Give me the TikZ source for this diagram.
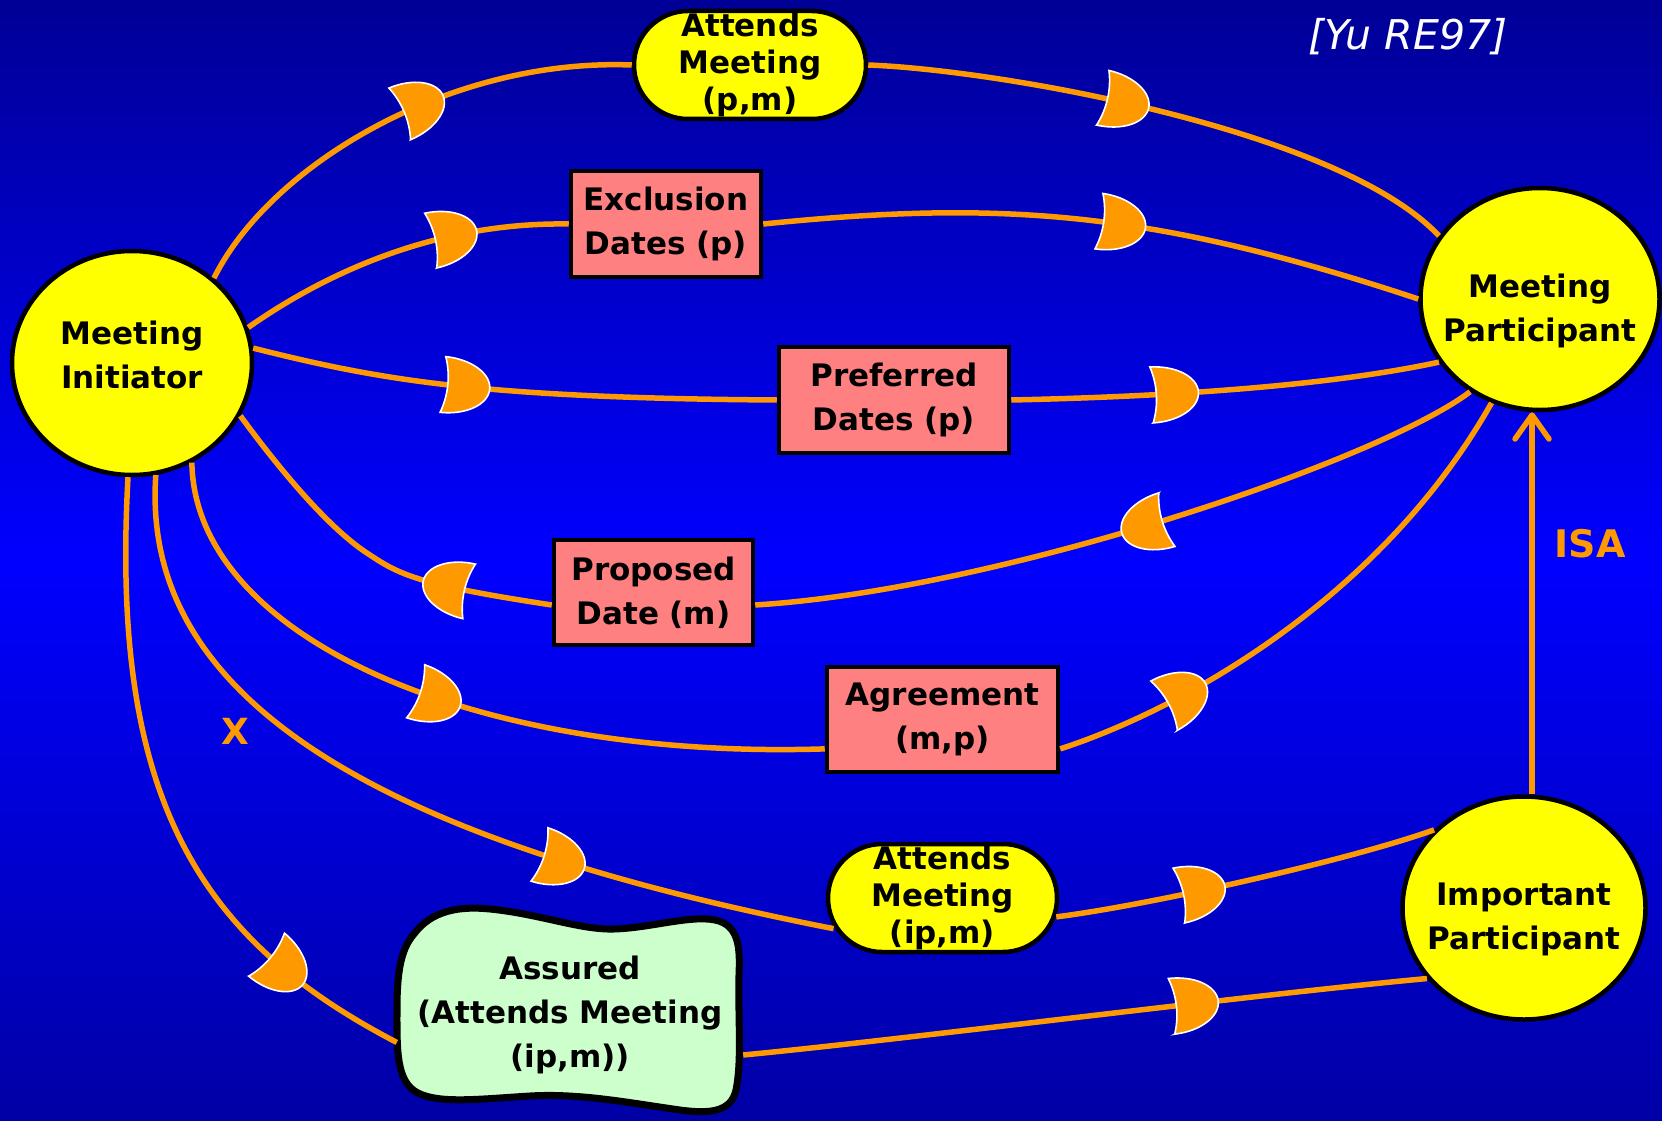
\documentclass[tikz,border=0pt]{standalone}
\usepackage{fontspec}
\setmainfont{DejaVu Sans}
\usetikzlibrary{shapes.geometric,arrows.meta,decorations.markings}

\definecolor{bgtop}{RGB}{0,0,150}
\definecolor{bgmid}{RGB}{0,0,255}
\definecolor{bgbot}{RGB}{0,0,165}
\definecolor{linkorange}{RGB}{255,153,0}
\definecolor{actoryellow}{RGB}{255,255,0}
\definecolor{resred}{RGB}{255,128,128}
\definecolor{softgreen}{RGB}{204,255,204}

\newcommand\labelfont{\fontsize{31}{44}\selectfont\bfseries}
\newcommand\goalfont{\fontsize{31}{37}\selectfont\bfseries}

% the "D" dependency marker, pointing along the path
\newcommand\depmark{%
  \filldraw[fill=linkorange, draw=white, line width=1.6pt]
    (-23,28) .. controls (3,28) and (24,15.5) .. (24,0)
    .. controls (24,-15.5) and (3,-28) .. (-23,-28)
    .. controls (-16.5,-10) and (-16.5,10) .. cycle;}

\tikzset{
  actor/.style={ellipse, draw=black, line width=4.5pt, fill=actoryellow,
    inner sep=-30pt, align=center, font=\labelfont},
  resource/.style={rectangle, draw=black, line width=4.5pt, fill=resred,
    inner sep=0pt, align=center, font=\labelfont},
  goalbox/.style={rectangle, rounded corners=54pt, draw=black, line width=4.5pt,
    fill=actoryellow, inner sep=0pt, align=center, font=\goalfont},
  dep/.style={draw=linkorange, line width=5.5pt, postaction={decorate},
    decoration={markings, mark=at position #1 with {\depmark}}},
  isalink/.style={draw=linkorange, line width=5.5pt,
    -{Straight Barb[length=24pt, width=34pt, line cap=round, round]}},
}

\begin{document}
\begin{tikzpicture}[x=1pt, y=-1pt]
\useasboundingbox (0,0) rectangle (1662,1121);
\shade[top color=bgtop, bottom color=bgbot, middle color=bgmid] (0,0) rectangle (1662,1121);

% actors
\node[actor, minimum width=240, minimum height=224, text depth=16pt] (MI) at (132,363) {Meeting\\Initiator};
\node[actor, minimum width=239, minimum height=222, text height=91pt] (MP) at (1540,299) {Meeting\\Participant};
\node[actor, minimum width=243, minimum height=223, text height=88.6pt] (IP) at (1524,908) {Important\\Participant};

% goals and resources
\node[goalbox, minimum width=232, minimum height=108] (AM1) at (750,65) {Attends\\Meeting\\(p,m)};
\node[resource, minimum width=190, minimum height=106] (ED) at (666,224) {Exclusion\\Dates (p)};
\node[resource, minimum width=230, minimum height=106] (PrefD) at (894,400) {Preferred\\Dates (p)};
\node[resource, minimum width=199, minimum height=105] (PropD) at (653.5,592.5) {Proposed\\Date (m)};
\node[resource, minimum width=231, minimum height=105] (Agr) at (942.5,719.5) {Agreement\\(m,p)};
\node[goalbox, minimum width=229, minimum height=108] (AMip) at (942.5,898) {Attends\\Meeting\\(ip,m)};

% softgoal outline
\filldraw[fill=softgreen, draw=black, line width=7pt, line join=round]
  (414,934) .. controls (432,910) and (460,906) .. (490,909)
  .. controls (540,914) and (580,930) .. (614,929)
  .. controls (650,928) and (690,915) .. (715,920)
  .. controls (740,925) and (740,950) .. (739,975)
  .. controls (738,1020) and (742,1060) .. (736,1090)
  .. controls (731,1112) and (710,1114) .. (680,1110)
  .. controls (630,1103) and (580,1093) .. (530,1096)
  .. controls (480,1099) and (440,1104) .. (418,1093)
  .. controls (396,1082) and (397,1050) .. (397,1010)
  .. controls (397,975) and (400,950) .. (414,934) -- cycle;
\node[rectangle, inner sep=0pt, align=center, font=\labelfont,
  minimum width=346, minimum height=200] (AS) at (570,1015)
  {Assured\\(Attends Meeting\\(ip,m))};

% dependencies
\draw[dep=0.56] (MI.46) .. controls (270,165) and (450,58) .. (AM1.west);
\draw[dep=0.43] (AM1.east) .. controls (1000,70) and (1340,130) .. (MP.148);

\draw[dep=0.66] (MI.17) .. controls (330,270) and (440,222) .. (ED.west);
\draw[dep=0.54] (ED.east) .. controls (1000,200) and (1150,210) .. (MP.180);

\draw[dep=0.41] (MI.7) .. controls (380,380) and (480,398) .. (PrefD.west);
\draw[dep=0.38] (PrefD.east) .. controls (1100,398) and (1300,392) .. (MP.212);

\draw[dep=0.47] (MP.233) .. controls (1380,460) and (1000,590) .. (PropD.-7);
\draw[dep=0.28] (PropD.187) .. controls (420,585) and (400,575) .. (370,555)
  .. controls (330,530) and (280,470) .. (MI.-26);

\draw[dep=0.48] (MI.-59) .. controls (195,640) and (480,760) .. (Agr.194);
\draw[dep=0.24] (Agr.-14) .. controls (1180,710) and (1380,600) .. (MP.245);

\draw[dep=0.69, shorten >=-8pt] (MI.-78) .. controls (140,700) and (380,840) .. (AMip.194);
\draw[dep=0.375, shorten <=-3pt] (AMip.-9) .. controls (1150,905) and (1350,860) .. (IP.139);

\draw[dep=0.80] (MI.-92) .. controls (110,800) and (200,940) .. (AS.189);
\draw[dep=0.66] (AS.-13) .. controls (900,1040) and (1250,995) .. (IP.216);

% specialisation link
\coordinate (isax) at (1532,0);
\draw[isalink] (IP.north -| isax) -- (MP.south -| isax);

% labels
\node[text=linkorange, font=\fontsize{38}{38}\selectfont\bfseries] (isa) at (1590,544) {ISA};
\node[text=linkorange, font=\fontsize{36}{36}\selectfont\bfseries] (xmark) at (235,731) {X};
\node[text=white, font=\fontsize{41}{41}\selectfont\itshape] (cite) at (1408,37) {[Yu RE97]};
\end{tikzpicture}
\end{document}
